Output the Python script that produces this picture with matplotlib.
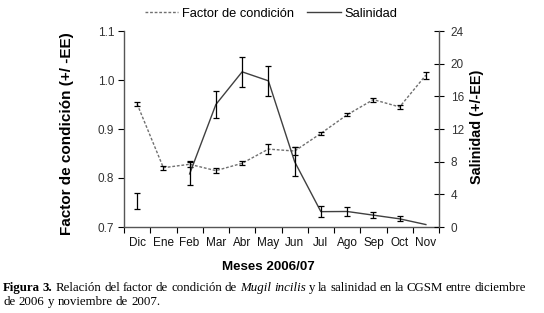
import numpy as np
import matplotlib
matplotlib.use("Agg")
import matplotlib.pyplot as plt

months = ["Dic", "Ene", "Feb", "Mar", "Abr", "May", "Jun", "Jul", "Ago", "Sep", "Oct", "Nov"]
factor = [0.951, 0.821, 0.828, 0.815, 0.830, 0.859, 0.855, 0.891, 0.929, 0.960, 0.945, 1.010]
factor_err = [0.005, 0.004, 0.006, 0.005, 0.004, 0.010, 0.008, 0.003, 0.003, 0.004, 0.004, 0.007]
salinidad = [3.24, np.nan, 6.5, 15.0, 19.0, 17.9, 8.0, 1.88, 1.9, 1.45, 1.0, 0.3]
salinidad_err = [0.98, np.nan, 1.4, 1.6, 1.8, 1.8, 1.8, 0.7, 0.5, 0.4, 0.3, 0.0]

plt.rcParams['font.family'] = ['Liberation Sans', 'DejaVu Sans']

W, H = 544, 313
fig = plt.figure(figsize=(W / 100, H / 100), dpi=100)
ax = fig.add_axes([124 / W, 1 - 227 / H, (439 - 124) / W, (227 - 31) / H])
ax2 = ax.twinx()

x = np.arange(len(months))
lf, = ax.plot(x, factor, linestyle=(0, (2.0, 1.3)), color='#707070', lw=1.0, zorder=3)
ax.errorbar(x, factor, yerr=factor_err, fmt='none', ecolor='black', elinewidth=0.9,
            capsize=2.5, capthick=0.9, zorder=4)

sal = np.array(salinidad)
ls, = ax2.plot(x, sal, linestyle='-', color='#404040', lw=1.0, zorder=3)
serr = np.array(salinidad_err)
mask = ~np.isnan(serr) & (np.nan_to_num(serr) > 0)
ax2.errorbar(x[mask], sal[mask], yerr=serr[mask], fmt='none', ecolor='black',
             elinewidth=0.9, capsize=2.5, capthick=0.9, zorder=4)

ax.set_xlim(-0.5, 11.5)
ax.set_ylim(0.7, 1.1)
ax.set_yticks([0.7, 0.8, 0.9, 1.0, 1.1])
ax.set_yticklabels(["0.7", "0.8", "0.9", "1.0", "1.1"])
ax2.set_ylim(0, 24)
ax2.set_yticks([0, 4, 8, 12, 16, 20, 24])

ax.set_xticks(np.arange(-0.5, 12, 1.0))
ax.set_xticklabels([])
ax.set_xticks(x, minor=True)
ax.set_xticklabels(months, minor=True)
ax.tick_params(axis='x', which='major', length=4, width=0.8, color='black', direction='out')
ax.tick_params(axis='x', which='minor', length=0, labelsize=8.5, pad=7, labelcolor='#111111')
ax.tick_params(axis='y', length=4, width=0.8, direction='out', labelsize=8.5, pad=3, labelcolor='#333333')
ax2.tick_params(axis='y', length=7, width=0.8, direction='inout', labelsize=8.5, pad=5, labelcolor='#333333')

for a in (ax, ax2):
    a.spines['top'].set_visible(False)
    for s in ('left', 'right', 'bottom'):
        a.spines[s].set_color('#555555')
        a.spines[s].set_linewidth(1.0)
ax2.spines['bottom'].set_visible(False)
ax.spines['right'].set_visible(False)
ax2.spines['left'].set_visible(False)

fig.text(67.5 / W, 1 - 134 / H, "Factor de condición (+/ -EE)", fontsize=11.0, fontweight='bold',
         rotation=90, ha='center', va='center')
fig.text(477 / W, 1 - 127 / H, "Salinidad (+/-EE)", fontsize=10.4, fontweight='bold',
         rotation=90, ha='center', va='center')
fig.text(268 / W, 1 - 267 / H, "Meses 2006/07", fontsize=9.6, fontweight='bold',
         ha='center', va='center')

fig.legend([lf, ls], ["Factor de condición", "Salinidad"], loc='center', bbox_to_anchor=(271 / W, 1 - 14 / H),
           ncol=2, frameon=False, fontsize=9.3, handlelength=2.6, handletextpad=0.3, columnspacing=1.0)

# Caption with mixed fonts, justified
fig.canvas.draw()
renderer = fig.canvas.get_renderer()
serif = ['Liberation Serif', 'DejaVu Serif']
CAP_FS = 9.3

def words_of(pieces):
    out = []
    for s, kw in pieces:
        for w in s.split():
            out.append((w, kw))
    return out

def place_line(pieces, y, x0=3, x1=None):
    ws = words_of(pieces)
    texts, widths = [], []
    for w, kw in ws:
        t = fig.text(0, 1 - y / H, w, family=serif, fontsize=CAP_FS, va='center', ha='left', **kw)
        widths.append(t.get_window_extent(renderer).width)
        texts.append(t)
    if x1 is None:
        sp = fig.text(0, 0, "a a", family=serif, fontsize=CAP_FS)
        spa = fig.text(0, 0, "aa", family=serif, fontsize=CAP_FS)
        gap = sp.get_window_extent(renderer).width - spa.get_window_extent(renderer).width
        sp.remove(); spa.remove()
    else:
        gap = (x1 - x0 - sum(widths)) / (len(ws) - 1)
    xs = x0
    for t, wd in zip(texts, widths):
        t.set_x(xs / W)
        xs += wd + gap

place_line([("Figura 3.", dict(fontweight='bold')),
            ("Relación del factor de condición de", {}),
            ("Mugil incilis", dict(style='italic')),
            ("y la salinidad en la CGSM entre diciembre", {})], 288, 3, 526)
place_line([("de 2006 y noviembre de 2007.", {})], 302)

fig.savefig("out.png", dpi=100)
